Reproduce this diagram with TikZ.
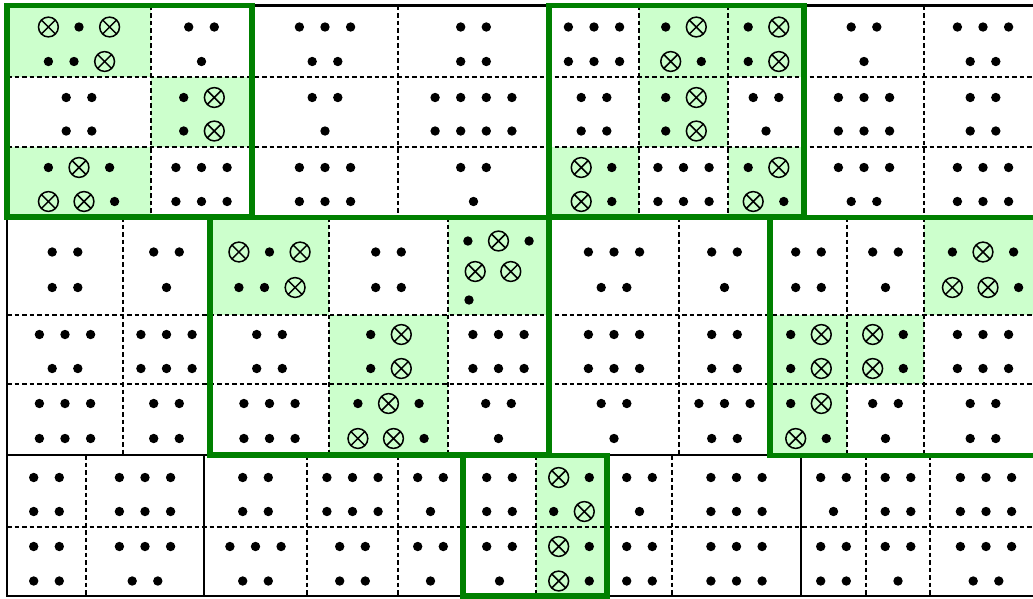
\documentclass[tikz,border=0pt]{standalone}
\definecolor{gline}{HTML}{008000}
\definecolor{gfill}{HTML}{CCFFCC}
\newdimen\rowW
\newdimen\curX
\def\wD{25.6}\def\hD{12.8}
\def\wO{35.6}\def\hO{17.8}
\tikzset{
  dl/.style={line width=1.7pt, dash pattern=on 4.5pt off 3pt},
  blkline/.style={line width=2.2pt, draw=black},
  grnline/.style={line width=5.5pt, draw=gline},
  gcell/.style={fill=gfill},
  dotsym/.style={fill=black},
  oxsym/.style={line width=1.5pt, draw=black},
}
\newcommand\symrow[3]{%
  \global\rowW=0pt
  \foreach \s in {#3}{\if D\s\global\advance\rowW by \wD pt\else\global\advance\rowW by \wO pt\fi}%
  \global\curX=#1pt
  \global\advance\curX by -0.5\rowW
  \foreach \s in {#3}{%
    \if D\s
      \global\advance\curX by \hD pt
      \pgfmathsetmacro\cxm{\curX}%
      \fill[dotsym] (\cxm,#2) circle[radius=4.7pt];
      \global\advance\curX by \hD pt
    \else
      \global\advance\curX by \hO pt
      \pgfmathsetmacro\cxm{\curX}%
      \draw[oxsym] (\cxm,#2) circle[radius=9.9pt]
        (\cxm,#2) +(45:9.9) -- +(225:9.9)
        (\cxm,#2) +(135:9.9) -- +(-45:9.9);
      \global\advance\curX by \hO pt
    \fi}%
}
\newcommand\cell[3]{\symrow{#1}{\ya}{#2}\symrow{#1}{\yb}{#3}}
\begin{document}
\begin{tikzpicture}[x=1pt,y=-1pt]
\useasboundingbox (0,0) rectangle (1033,598);
\fill[white] (0,0) rectangle (1033,598);
\clip (0,0) rectangle (1033,598);
% green cells
\foreach \xa/\xb/\yc/\yd in {7/151/5.5/77, 151/252/77/147, 7/151/147/217,
  639/728/5.5/77, 728/804/5.5/77, 639/728/77/147, 549/639/147/217, 728/804/147/217,
  210/329/217/315, 448/549/217/315, 329/448/315/384, 329/448/384/455,
  924/1042/217/315, 770/847/315/384, 847/924/315/384, 770/847/384/455,
  536/607/455/527, 536/607/527/596}
  {\fill[gcell] (\xa,\yc) rectangle (\xb,\yd);}
% dashed inner lines
\foreach \yy in {77,147} {\draw[dl] (7,\yy) -- (1042,\yy);}
\foreach \xx in {151,398,639,728,924} {\draw[dl] (\xx,5.5) -- (\xx,217);}
\foreach \yy in {315,384} {\draw[dl] (7,\yy) -- (1042,\yy);}
\foreach \xx in {123,329,448,679,847,924} {\draw[dl] (\xx,217) -- (\xx,455);}
\draw[dl] (7,527) -- (1042,527);
\foreach \xx in {86,307,398,536,672,866,930} {\draw[dl] (\xx,455) -- (\xx,596);}
% band 1 symbols
\def\ya{27}\def\yb{61.5}
\cell{79}{O,D,O}{D,D,O}
\cell{201.5}{D,D}{D}
\cell{325}{D,D,D}{D,D}
\cell{473.5}{D,D}{D,D}
\cell{594}{D,D,D}{D,D,D}
\cell{683.5}{D,O}{O,D}
\cell{766}{D,O}{D,O}
\cell{864}{D,D}{D}
\cell{983}{D,D,D}{D,D}
\def\ya{97.5}\def\yb{131}
\cell{79}{D,D}{D,D}
\cell{201.5}{D,O}{D,O}
\cell{325}{D,D}{D}
\cell{473.5}{D,D,D,D}{D,D,D,D}
\cell{594}{D,D}{D,D}
\cell{683.5}{D,O}{D,O}
\cell{766}{D,D}{D}
\cell{864}{D,D,D}{D,D,D}
\cell{983}{D,D}{D,D}
\def\ya{167.5}\def\yb{201.5}
\cell{79}{D,O,D}{O,O,D}
\cell{201.5}{D,D,D}{D,D,D}
\cell{325}{D,D,D}{D,D,D}
\cell{473.5}{D,D}{D}
\cell{594}{O,D}{O,D}
\cell{683.5}{D,D,D}{D,D,D}
\cell{766}{D,O}{O,D}
\cell{864}{D,D,D}{D,D}
\cell{983}{D,D,D}{D,D,D}
% band 2 symbols
\def\ya{252}\def\yb{287.5}
\cell{65}{D,D}{D,D}
\cell{166.5}{D,D}{D}
\cell{269.5}{O,D,O}{D,D,O}
\cell{388.5}{D,D}{D,D}
\symrow{498.5}{241}{D,O,D}
\symrow{493}{271.5}{O,O}
\symrow{469}{300}{D}
\cell{614}{D,D,D}{D,D}
\cell{724.5}{D,D}{D}
\cell{808.5}{D,D}{D,D}
\cell{885.5}{D,D}{D}
\cell{983}{D,O,D}{O,O,D}
\def\ya{334.5}\def\yb{368.5}
\cell{65}{D,D,D}{D,D}
\cell{166.5}{D,D,D}{D,D,D}
\cell{269.5}{D,D}{D,D}
\cell{388.5}{D,O}{D,O}
\cell{498.5}{D,D,D}{D,D,D}
\cell{614}{D,D,D}{D,D,D}
\cell{724.5}{D,D}{D,D}
\cell{808.5}{D,O}{D,O}
\cell{885.5}{O,D}{O,D}
\cell{983}{D,D,D}{D,D,D}
\def\ya{403.5}\def\yb{438.5}
\cell{65}{D,D,D}{D,D,D}
\cell{166.5}{D,D}{D,D}
\cell{269.5}{D,D,D}{D,D,D}
\cell{388.5}{D,O,D}{O,O,D}
\cell{498.5}{D,D}{D}
\cell{614}{D,D}{D}
\cell{724.5}{D,D,D}{D,D}
\cell{808.5}{D,O}{O,D}
\cell{885.5}{D,D}{D}
\cell{983}{D,D}{D,D}
% band 3 symbols
\def\ya{477.5}\def\yb{511.5}
\cell{46.5}{D,D}{D,D}
\cell{145}{D,D,D}{D,D,D}
\cell{255.5}{D,D}{D,D}
\cell{352.5}{D,D,D}{D,D,D}
\cell{430.5}{D,D}{D}
\cell{499.5}{D,D}{D,D}
\cell{571.5}{O,D}{D,O}
\cell{639.5}{D,D}{D}
\cell{736.5}{D,D,D}{D,D,D}
\cell{833.5}{D,D}{D}
\cell{898}{D,D}{D,D}
\cell{986}{D,D,D}{D,D,D}
\def\ya{546.5}\def\yb{581}
\cell{46.5}{D,D}{D,D}
\cell{145}{D,D,D}{D,D}
\cell{255.5}{D,D,D}{D,D}
\cell{352.5}{D,D}{D,D}
\cell{430.5}{D,D}{D}
\cell{499.5}{D,D}{D}
\cell{571.5}{O,D}{O,D}
\cell{639.5}{D,D}{D,D}
\cell{736.5}{D,D,D}{D,D,D}
\cell{833.5}{D,D}{D,D}
\cell{898}{D,D}{D}
\cell{986}{D,D,D}{D,D}
% black block borders
\foreach \xa/\yc/\xb/\yd in {252/5.5/549/217, 804/5.5/1042/217,
  7/217/210/455, 549/217/770/455,
  7/455/204/596, 204/455/463/596, 607/455/801/596, 801/455/1042/596}
  {\draw[blkline] (\xa,\yc) rectangle (\xb,\yd);}
% green block borders
\foreach \xa/\yc/\xb/\yd in {7/5.5/252/217, 549/5.5/804/217,
  210/217.5/549/455, 770/217.5/1042/455.5, 463/455.5/607/596}
  {\draw[grnline] (\xa,\yc) rectangle (\xb,\yd);}
\end{tikzpicture}
\end{document}
